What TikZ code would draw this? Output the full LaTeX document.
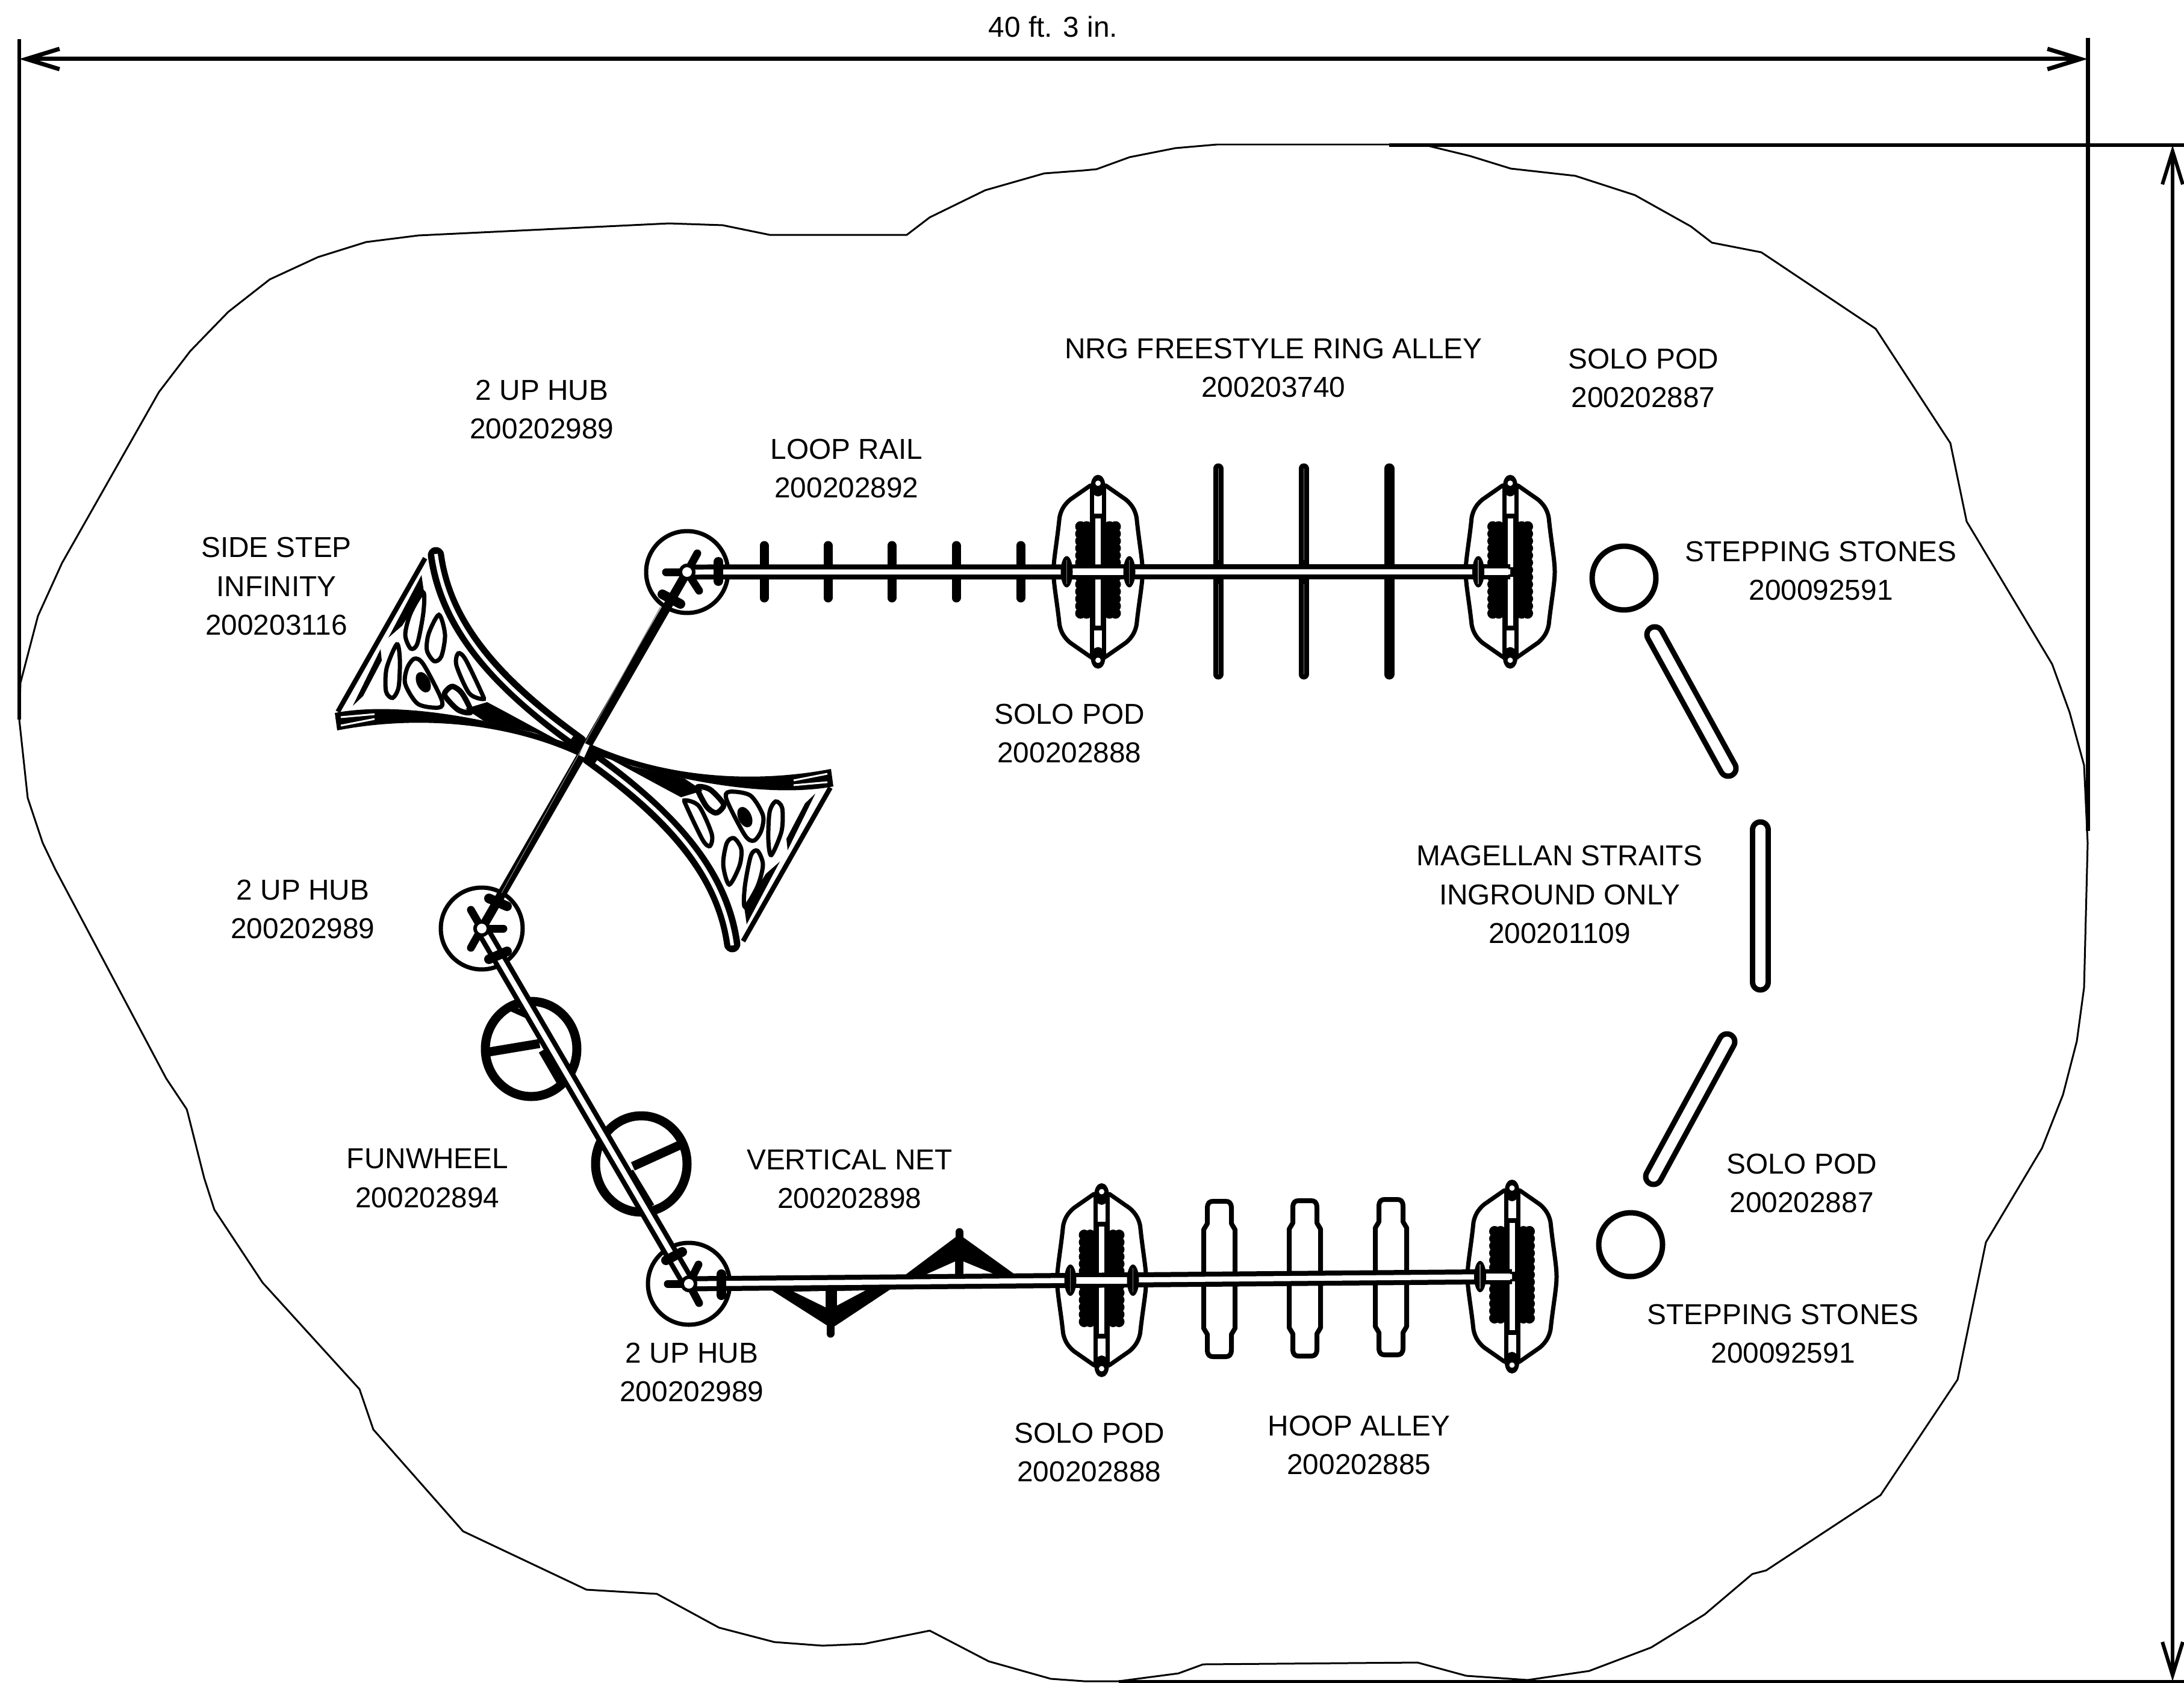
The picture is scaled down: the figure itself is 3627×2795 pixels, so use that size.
\documentclass[tikz,border=0pt]{standalone}
\usepackage{fontspec}
\setmainfont{Liberation Sans}
\usetikzlibrary{arrows.meta}
\tikzset{
  lw/.style={line width=#1*0.569pt},
  lab/.style={font=\fontsize{27.2}{36.7}\selectfont,align=center,inner sep=0pt,outer sep=0pt},
  hubring/.style={circle,draw,line width=4pt,minimum size=136*0.569pt,inner sep=0pt,outer sep=0pt},
  thinline/.style={lw=3,line join=round},
  dimline/.style={lw=7},
  barbs/.style={{Straight Barb[length=31.3pt,width=19.3pt]}-{Straight Barb[length=31.3pt,width=19.3pt]}},
  spoke/.style={lw=13,line cap=round},
  clampbar/.style={lw=16,line cap=round},
  railblack/.style={lw=25},
  railwhite/.style={lw=8.5,white},
  postbar/.style={lw=15,line cap=round},
  ringbar/.style={lw=17,line cap=round},
  hoop/.style={lw=8,line join=round},
  stone/.style={lw=9},
  strait/.style={lw=35,line cap=round},
  straitin/.style={lw=17,white,line cap=round},
  wheel/.style={lw=15},
  leaf/.style={lw=7},
}
\newcommand{\podbody}[1]{%
 \begin{scope}[shift={(#1)}]
  \draw[lw=7,line join=round,fill=white] (-13,-143) -- (-46,-120) .. controls (-58,-110) and (-62,-100) .. (-64,-90) .. controls (-68,-50) and (-74,-20) .. (-74,0) .. controls (-74,20) and (-68,50) .. (-64,88) .. controls (-62,98) and (-58,108) .. (-46,118) -- (-13,141) -- (13,141) -- (46,118) .. controls (58,108) and (62,98) .. (64,88) .. controls (68,50) and (74,20) .. (74,0) .. controls (74,-20) and (68,-50) .. (64,-90) .. controls (62,-100) and (58,-110) .. (46,-120) -- (13,-143) -- cycle;
  \foreach \d in {-75,-63,...,75}{
    \fill (-29,\d) circle [radius=9];
    \fill (-19,\d) circle [radius=9];
    \fill (19,\d) circle [radius=9];
    \fill (29,\d) circle [radius=9];
  }
  \draw[lw=27] (0,-145) -- (0,145);
  \draw[lw=13,white] (0,-143) -- (0,-97);
  \draw[lw=13,white] (0,97) -- (0,143);
  \draw[lw=9,white] (0,-89) -- (0,-8);
  \draw[lw=9,white] (0,89) -- (0,8);
  \fill (0,-143) ellipse [x radius=12,y radius=18];
  \fill (0,143) ellipse [x radius=12,y radius=18];
  \fill[white] (0,-147) circle [radius=4.5];
  \fill[white] (0,147) circle [radius=4.5];
 \end{scope}}
\newcommand{\podcollar}[2]{%
 \begin{scope}[shift={(#1)}]
  \fill (#2,0) ellipse [x radius=10,y radius=26];
  \draw[lw=1.2,gray] (#2,-20) -- (#2,20);
 \end{scope}}
\newcommand{\hoopshape}[1]{%
 \draw[hoop,shift={(#1)}] (-20,-117) .. controls (-20,-127) and (-16,-129) .. (-10,-129) -- (10,-129) .. controls (16,-129) and (20,-127) .. (20,-117) -- (20,-92) -- (26,-82) -- (26,82) -- (20,92) -- (20,117) .. controls (20,127) and (16,129) .. (10,129) -- (-10,129) .. controls (-16,129) and (-20,127) .. (-20,117) -- (-20,92) -- (-26,82) -- (-26,-82) -- (-20,-92) -- cycle;}
\newcommand{\wing}{%
  % long curved band
  \draw[lw=27,line cap=round] (724,922) .. controls (740,1040) and (825,1135) .. (961,1233);
  \draw[lw=6,white] (724,920) .. controls (740,1040) and (825,1135) .. (950,1225);
  % lower tapered band
  \fill (556,1184) .. controls (640,1168) and (780,1180) .. (961,1240) -- (961,1255) .. controls (830,1195) and (680,1190) .. (560,1213) -- cycle;
  \draw[lw=3,white] (566,1191) -- (622,1186);
  \draw[lw=3,white] (566,1205) -- (622,1194);
  % left edge
  \draw[lw=8] (706,927) -- (561,1182);
  \fill (700,955) -- (645,1059) -- (668,1039) -- (704,983) -- cycle;
  \fill (632,1078) -- (586,1172) -- (603,1156) -- (634,1097) -- cycle;
  % leaves
  \draw[leaf] plot[smooth cycle] coordinates {(703,984) (682,1018) (673,1054) (682,1077) (693,1069) (703,1018)};
  \draw[leaf] plot[smooth cycle] coordinates {(729,1021) (712,1052) (709,1080) (721,1098) (733,1090) (739,1054)};
  \draw[leaf] plot[smooth cycle] coordinates {(659,1070) (642,1110) (641,1148) (652,1159) (662,1141) (664,1095)};
  \draw[leaf] plot[smooth cycle] coordinates {(676,1110) (688,1094) (703,1103) (733,1161) (729,1175) (694,1169) (673,1136)};
  \fill[shift={(703,1133)},rotate=25] (0,0) ellipse [x radius=11,y radius=18];
  \draw[leaf] plot[smooth cycle] coordinates {(761,1085) (758,1105) (779,1151) (802,1161) (800,1151) (773,1095)};
  \draw[lw=9] plot[smooth cycle] coordinates {(742,1146) (739,1156) (761,1179) (782,1182) (767,1151) (752,1140)};
  \fill (773,1177) -- (809,1166) -- (839,1182) -- (924,1228) -- (961,1243) -- (888,1217) -- (803,1197) -- cycle;
}
\begin{document}
\begin{tikzpicture}[x=0.02cm,y=-0.02cm]
\useasboundingbox (0,0) rectangle (3627,2795);
\fill[white] (0,0) rectangle (3627,2795);

% site outline
\draw[thinline] (32,1195) -- (34,1134) -- (63,1023) -- (103,935) -- (264,651) -- (316,583) -- (379,518) -- (448,464) -- (528,427) -- (608,402) -- (695,391) -- (1111,371) -- (1200,374) -- (1278,390) -- (1506,390) -- (1544,361) -- (1636,316) -- (1734,288) -- (1800,283) -- (1821,281) -- (1876,261) -- (1952,246) -- (2021,240) -- (2310,240) -- (2371,242) -- (2441,259) -- (2509,280) -- (2616,292) -- (2715,324) -- (2808,376) -- (2843,403) -- (2925,419) -- (3115,546) -- (3239,736) -- (3266,866) -- (3408,1103) -- (3437,1183) -- (3461,1271) -- (3467,1400) -- (3461,1640) -- (3449,1729) -- (3426,1818) -- (3391,1907) -- (3298,2063) -- (3251,2291) -- (3123,2483) -- (2933,2608) -- (2910,2614) -- (2831,2681) -- (2742,2736) -- (2639,2775) -- (2537,2790) -- (2435,2783) -- (2354,2761) -- (1998,2764) -- (1957,2779) -- (1858,2792) -- (1800,2792) -- (1745,2788) -- (1642,2759) -- (1544,2708) -- (1435,2730) -- (1366,2733) -- (1286,2727) -- (1194,2703) -- (1091,2647) -- (974,2640) -- (769,2543) -- (620,2374) -- (597,2307) -- (436,2130) -- (356,2009) -- (339,1956) -- (312,1849) -- (310,1842) -- (276,1791) -- (92,1444) -- (71,1400) -- (46,1325) -- cycle;

% dimensions
\coordinate (dimL) at (32,98);
\coordinate (dimR) at (3467,98);
\coordinate (dimT) at (3608,241);
\coordinate (dimB) at (3608,2792);
\coordinate (extLa) at (32,65);
\coordinate (extLb) at (32,1195);
\coordinate (extRa) at (3467,63);
\coordinate (extRb) at (3467,1380);
\coordinate (extTa) at (2307,241);
\coordinate (extTb) at (3627,241);
\coordinate (extBa) at (1858,2792);
\coordinate (extBb) at (3627,2792);
\draw[dimline] (extLa) -- (extLb);
\draw[dimline] (extRa) -- (extRb);
\draw[lw=6] (extTa) -- (extTb);
\draw[lw=5] (extBa) -- (extBb);
\draw[dimline,barbs] (dimL) -- (dimR);
\draw[lw=6,barbs] (dimT) -- (dimB);
\node[lab] (dimtext) at (1749,44) {40 ft. 3 in.};

% hubs and reference points
\node[hubring] (hubA) at (1141,950) {};
\node[hubring] (hubB) at (800,1542) {};
\node[hubring] (hubC) at (1144,2132) {};
\coordinate (podA) at (1823.5,949.5);
\coordinate (podB) at (2508,949.5);
\coordinate (podC) at (1829.5,2126);
\coordinate (podD) at (2511,2120);

% stones and straits
\node[circle,draw,stone,minimum size=106*0.569pt,inner sep=0pt] (stoneA) at (2697,960) {};
\node[circle,draw,stone,minimum size=106*0.569pt,inner sep=0pt] (stoneB) at (2708,2067) {};
\draw[strait] (2748,1054) -- (2870,1276);
\draw[straitin] (2748,1054) -- (2870,1276);
\draw[strait] (2923.5,1378) -- (2923.5,1631);
\draw[straitin] (2923.5,1378) -- (2923.5,1631);
\draw[strait] (2868,1730) -- (2746,1954);
\draw[straitin] (2868,1730) -- (2746,1954);

% side step infinity
\wing
\begin{scope}[rotate around={180:(970,1245)}]
\wing
\end{scope}

% funwheels
\draw[wheel] (882,1742) ellipse [x radius=76,y radius=79];
\draw[wheel] (812,1747) -- (896,1733);
\draw[lw=12] (900,1745) -- (932,1800);
\draw[lw=10] (850,1675) -- (890,1693);
\draw[wheel] (1065,1933) ellipse [x radius=76,y radius=80];
\draw[wheel] (1051,1937) -- (1128,1902);
\draw[lw=10] (1047,1945) -- (1082,2003);

% diagonal thin rail
\draw[lw=15] (hubA.center) -- (hubB.center);
\draw[lw=1.2,gray] (1097,1008) -- (833,1483);

% loop rail posts
\foreach \n/\px in {a/1269,b/1375,c/1481,d/1588,e/1695}{
  \coordinate (post\n t) at (\px,906);
  \coordinate (post\n b) at (\px,993);
  \draw[postbar] (post\n t) -- (post\n b);
}
% ring alley
\foreach \n/\px in {a/2023,b/2165,c/2307}{
  \coordinate (ring\n t) at (\px,778);
  \coordinate (ring\n b) at (\px,1120);
  \draw[ringbar] (ring\n t) -- (ring\n b);
}
\draw[lw=1,gray] (2023,778) -- (2023,930);
\draw[lw=1,gray] (2023,970) -- (2023,1120);
\draw[lw=1,gray] (2165,778) -- (2165,930);
\draw[lw=1,gray] (2165,970) -- (2165,1120);

% hoop alley
\hoopshape{2025,2124}
\hoopshape{2167,2123}
\hoopshape{2310,2121}

% vertical net
\fill (1282,2143) -- (1381,2206) -- (1479,2141) -- cycle;
\fill[white] (1318,2145) -- (1371,2144) -- (1371,2171) -- cycle;
\fill[white] (1390,2144) -- (1437,2143) -- (1390,2168) -- cycle;
\draw[lw=13,line cap=round] (1379,2150) -- (1379,2215);
\fill (1497,2122) -- (1593,2050) -- (1693,2122) -- cycle;
\fill[white] (1539,2116) -- (1586,2116) -- (1586,2095) -- cycle;
\fill[white] (1600,2116) -- (1651,2116) -- (1600,2095) -- cycle;
\draw[lw=13,line cap=round] (1593,2046) -- (1593,2110);

% pods
\podbody{podA}
\podbody{podB}
\podbody{podC}
\podbody{podD}

% rails
\draw[railblack] (hubA.center) -- (podB);
\draw[railwhite] (hubA.center) -- (podB);
\draw[railblack] (hubC.center) -- (podD);
\draw[railwhite] (hubC.center) -- (podD);
\draw[railblack] (hubB.center) -- (hubC.center);
\draw[railwhite] (hubB.center) -- (hubC.center);
\draw[lw=11,white] (1771,949.5) -- (1875,949.5);
\draw[lw=11,white] (2455,949.5) -- (2505,949.5);
\draw[lw=11,white] (1777,2126) -- (1881,2126);
\draw[lw=11,white] (2458,2120) -- (2508,2120);
\podcollar{podA}{-52}
\podcollar{podA}{52}
\podcollar{podB}{-53}
\podcollar{podC}{-52}
\podcollar{podC}{52}
\podcollar{podD}{-53}

% hub details
\draw[spoke] (hubA.center) -- ++(17,-31);
\draw[spoke] (hubA.center) -- ++(20,31);
\draw[spoke] (hubA.center) -- ++(-35,0);
\draw[clampbar] (1193,933) -- (1193,965);
\draw[clampbar] (1100,987) -- (1130,1003);
\fill (hubA.center) circle [radius=14];
\fill[white] (hubA.center) circle [radius=8];

\draw[spoke] (hubB.center) -- ++(-18,-31);
\draw[spoke] (hubB.center) -- ++(-18,32);
\draw[spoke] (hubB.center) -- ++(36,0);
\draw[clampbar] (812,1492) -- (842,1505);
\draw[clampbar] (812,1593) -- (842,1580);
\fill (hubB.center) circle [radius=14];
\fill[white] (hubB.center) circle [radius=8];

\draw[spoke] (hubC.center) -- ++(16,-32);
\draw[spoke] (hubC.center) -- ++(17,32);
\draw[spoke] (hubC.center) -- ++(-35,0);
\draw[clampbar] (1106,2093) -- (1133,2079);
\draw[clampbar] (1198,2116) -- (1198,2151);
\fill (hubC.center) circle [radius=14];
\fill[white] (hubC.center) circle [radius=8];

% centre of the infinity
\draw[lw=9,white] (975,1236) -- (966,1256);

% labels
\node[lab] (t01) at (900,680) {2 UP HUB\\200202989};
\node[lab] (t02) at (1406,778) {LOOP RAIL\\200202892};
\node[lab] (t03) at (459,974) {SIDE STEP\\INFINITY\\200203116};
\node[lab] (t04) at (2115,611) {NRG FREESTYLE RING ALLEY\\200203740};
\node[lab] (t05) at (2729,628) {SOLO POD\\200202887};
\node[lab] (t06) at (1776,1218) {SOLO POD\\200202888};
\node[lab] (t07) at (3024,948) {STEPPING STONES\\200092591};
\node[lab] (t08) at (2590,1486) {MAGELLAN STRAITS\\INGROUND ONLY\\200201109};
\node[lab] (t09) at (503,1510) {2 UP HUB\\200202989};
\node[lab] (t10) at (710,1957) {FUNWHEEL\\200202894};
\node[lab] (t11) at (1411,1958) {VERTICAL NET\\200202898};
\node[lab] (t12) at (1149,2279) {2 UP HUB\\200202989};
\node[lab] (t13) at (1809,2412) {SOLO POD\\200202888};
\node[lab] (t14) at (2257,2400) {HOOP ALLEY\\200202885};
\node[lab] (t15) at (2992,1965) {SOLO POD\\200202887};
\node[lab] (t16) at (2961,2215) {STEPPING STONES\\200092591};
\end{tikzpicture}
\end{document}
